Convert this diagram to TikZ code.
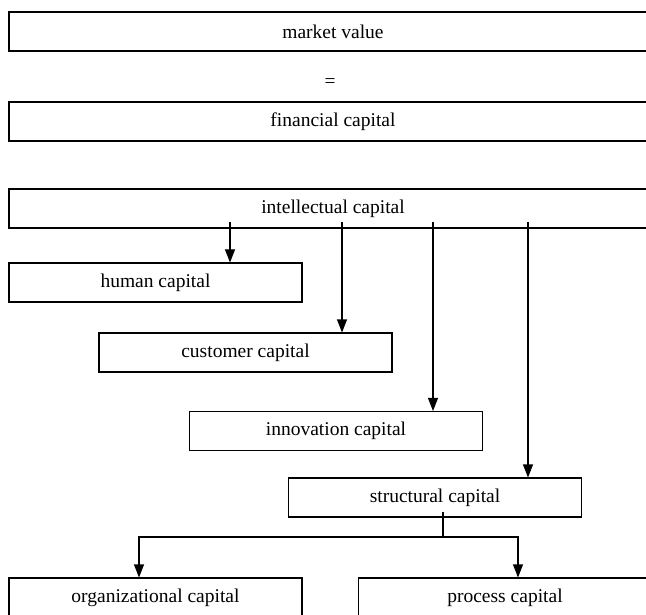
\documentclass[tikz,border=0pt]{standalone}
\usepackage{fontspec}
\setmainfont{Liberation Serif}
\usetikzlibrary{arrows.meta}
\begin{document}
\begin{tikzpicture}[x=1pt,y=-1pt,
  box/.style={draw, line width=1.1pt, minimum height=39pt, inner sep=0pt, font=\fontsize{19.5}{22}\selectfont},
  wide/.style={box, minimum width=648pt},
  narrow/.style={box, minimum width=293pt},
  arr/.style={line width=1.1pt, -{Triangle[length=13pt,width=10pt]}},
  ln/.style={line width=1.1pt}]
\useasboundingbox (0,0) rectangle (646,615);
\clip (0,0) rectangle (646,615);
\fill[white] (0,0) rectangle (646,615);
\node[wide] (mv) at (333,31.5) {market value};
\node[font=\fontsize{19.5}{22}\selectfont] (eq) at (330,83) {=};
\node[wide] (fc) at (333,121.5) {financial capital};
\node[wide] (ic) at (333,208.5) {intellectual capital};
\node[narrow] (hc) at (155.5,282.5) {human capital};
\node[narrow] (cc) at (245.5,352.5) {customer capital};
\node[narrow] (inn) at (336,431) {innovation capital};
\node[narrow] (sc) at (435,497.5) {structural capital};
\node[narrow] (oc) at (155.5,597.5) {organizational capital};
\node[narrow] (pc) at (505,597.5) {process capital};
\coordinate (a1) at (230,222);
\coordinate (a2) at (342,222);
\coordinate (a3) at (433,222);
\coordinate (a4) at (528,222);
\draw[arr] (a1) -- (a1 |- hc.north);
\draw[arr] (a2) -- (a2 |- cc.north);
\draw[arr] (a3) -- (a3 |- inn.north);
\draw[arr] (a4) -- (a4 |- sc.north);
\coordinate (s0) at (443,512);
\coordinate (sj) at (443,537);
\coordinate (sl) at (139,537);
\coordinate (sr) at (518,537);
\draw[ln] (s0) -- (sj);
\draw[arr] (sj) -- (sl) -- (sl |- oc.north);
\draw[arr] (sj) -- (sr) -- (sr |- pc.north);
\end{tikzpicture}
\end{document}
